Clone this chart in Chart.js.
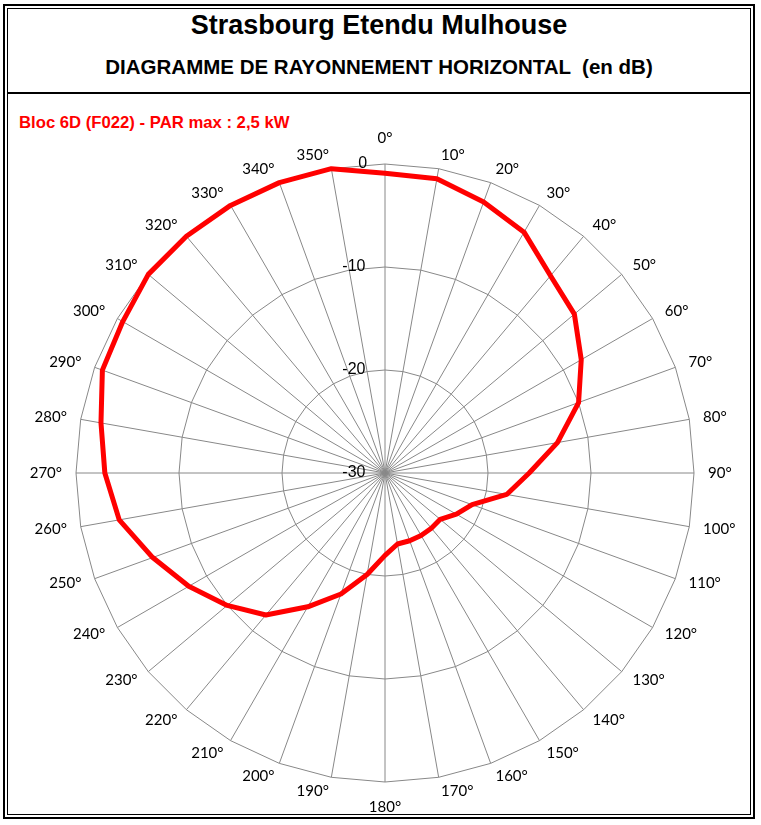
<!DOCTYPE html>
<html>
<head>
<meta charset="utf-8">
<script src="https://cdn.jsdelivr.net/npm/chart.js@4.4.1/dist/chart.umd.min.js"></script>
<style>
  html, body { margin: 0; padding: 0; background: #fff; }
  body { width: 761px; height: 825px; position: relative; overflow: hidden; font-family: "Liberation Sans", Arial, sans-serif; }
  .outer { position: absolute; left: 3px; top: 4px; width: 748px; height: 811px; border: 2px solid #000; }
  .inner { position: absolute; left: 7px; top: 8px; width: 742px; height: 805px; border: 1px solid #000; }
  .sep { position: absolute; left: 7px; top: 92px; width: 744px; height: 2px; background: #000; }
  .title { position: absolute; left: 7px; width: 744px; text-align: center; font-weight: bold; color: #000; white-space: pre; }
  #t1 { top: 7px; font-size: 27px; line-height: 36px; }
  #t2 { top: 55px; font-size: 20.5px; line-height: 24px; }
  #bloc { position: absolute; left: 19px; top: 112px; font-size: 16.7px; line-height: 22px; font-weight: bold; color: #ff0000; white-space: pre; }
  #wrap { position: absolute; left: 0; top: 0; width: 761px; height: 825px; }
</style>
</head>
<body>
<div class="outer"></div>
<div class="inner"></div>
<div class="sep"></div>
<div class="title" id="t1">Strasbourg Etendu Mulhouse</div>
<div class="title" id="t2">DIAGRAMME DE RAYONNEMENT HORIZONTAL  (en dB)</div>
<div id="bloc">Bloc 6D (F022) - PAR max : 2,5 kW</div>
<div id="wrap"><canvas id="chart"></canvas></div>
<script>
// azimuths, 10 degree steps clockwise from north
var angles = ['0°', '10°', '20°', '30°', '40°', '50°', '60°', '70°', '80°', '90°',
  '100°', '110°', '120°', '130°', '140°', '150°', '160°', '170°', '180°', '190°',
  '200°', '210°', '220°', '230°', '240°', '250°', '260°', '270°', '280°', '290°',
  '300°', '310°', '320°', '330°', '340°', '350°'];

// relative attenuation in dB
var attenuation = [-0.9, -1, -2, -3, -5, -6, -8, -10, -13, -16,
  -18, -21, -22, -23, -23, -23, -23, -23, -22, -20,
  -17.5, -15, -12, -10, -8, -6, -3.8, -2.8, -2, -0.8,
  -0.6, 0, 0, 0, 0, 0];

var scaleMin = -30;
var scaleMax = 0;
var scaleStep = 10;

// excel style angle labels: side labels hang off the spoke end,
// vertically centred; north / south ones sit above / below it
var spokeLabels = {
  id: 'spokeLabels',
  afterDraw: function (chart) {
    var r = chart.scales.r;
    var c = chart.ctx;
    var n = chart.data.labels.length;
    c.save();
    c.font = '15px Lato';
    c.fillStyle = '#000';
    c.textBaseline = 'middle';
    chart.data.labels.forEach(function (lbl, i) {
      var p = r.getPointPosition(i, r.drawingArea + 14);
      var deg = i * 360 / n;
      var y = p.y;
      if (deg === 0) y -= 12;
      if (deg === 180) y += 11;
      c.textAlign = (deg % 180 === 0) ? 'center' : (deg < 180 ? 'left' : 'right');
      c.fillText(lbl, p.x, y);
    });
    c.restore();
  }
};

var ctx = document.getElementById('chart').getContext('2d');

var myChart = new Chart(ctx, {
  type: 'radar',
  data: {
    labels: angles,
    datasets: [{
      label: 'Bloc 6D (F022)',
      data: attenuation,
      borderColor: '#ff0000',
      borderWidth: 5,
      borderJoinStyle: 'round',
      pointRadius: 0,
      fill: false,
      tension: 0
    }]
  },
  options: {
    responsive: true,
    maintainAspectRatio: false,
    animation: false,
    layout: {
      padding: { top: 154, bottom: 33, left: 9, right: 0 }
    },
    plugins: {
      legend: { display: false },
      tooltip: { enabled: false }
    },
    scales: {
      r: {
        min: scaleMin,
        max: scaleMax,
        startAngle: 0,
        ticks: {
          stepSize: scaleStep,
          color: '#000',
          showLabelBackdrop: false,
          font: { family: 'Liberation Sans', size: 16 },
          // labels sit left of the north axis, as in the original
          callback: function (v) {
            var s = String(v);
            return s + ' '.repeat(s.length > 1 ? 14 : 10);
          }
        },
        grid: { color: '#888888', lineWidth: 1 },
        angleLines: { color: '#888888', lineWidth: 1 },
        pointLabels: { display: false }
      }
    }
  },
  plugins: [spokeLabels]
});
</script>
</body>
</html>
